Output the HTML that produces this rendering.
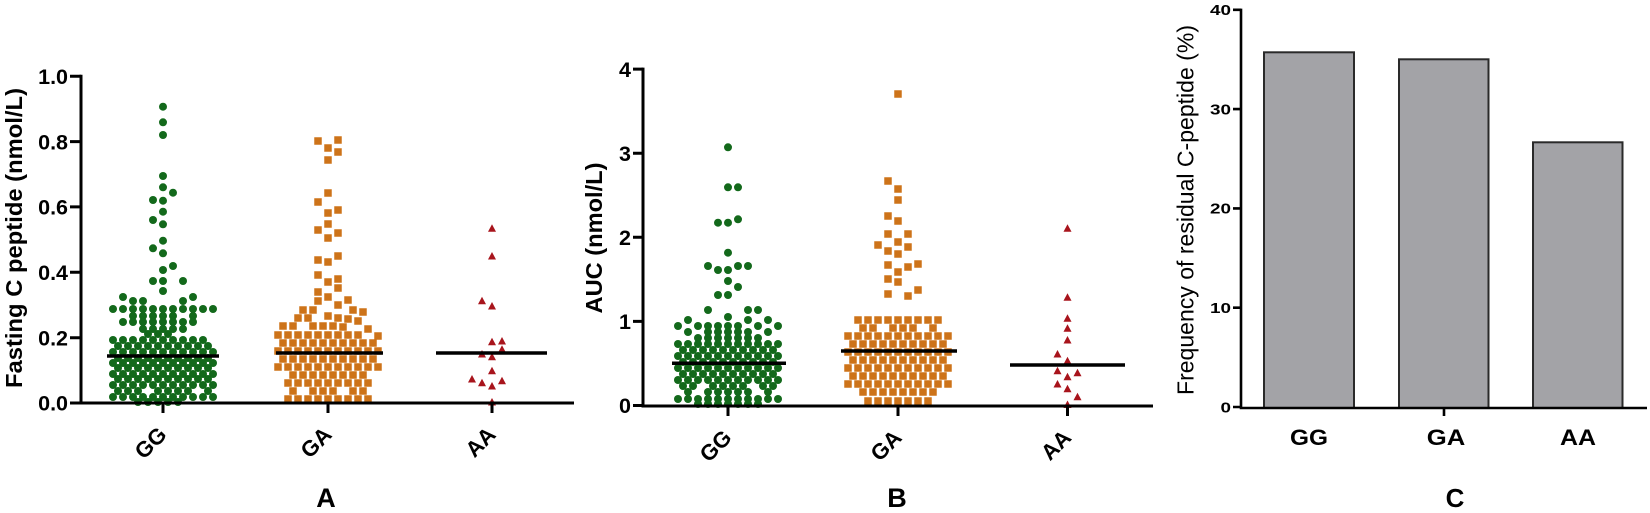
<!DOCTYPE html>
<html><head><meta charset="utf-8"><style>
html,body{margin:0;padding:0;background:#fff;}
svg{display:block;}
text{font-family:"Liberation Sans",Arial,sans-serif;fill:#000;}
.b{font-weight:bold;}
</style></head><body>
<svg width="1650" height="513" viewBox="0 0 1650 513" xmlns="http://www.w3.org/2000/svg">
<rect width="1650" height="513" fill="#fff"/>

<!-- ===== PANEL A ===== -->
<g fill="#13691b">
<g transform="translate(163,0)">
<circle cx="0" cy="106.7" r="4"/><circle cx="0" cy="122.3" r="4"/><circle cx="0" cy="135" r="4"/><circle cx="0" cy="176" r="4"/><circle cx="0" cy="187.3" r="4"/><circle cx="10" cy="192.7" r="4"/><circle cx="-10" cy="200" r="4"/><circle cx="0" cy="200.7" r="4"/><circle cx="0" cy="211.7" r="4"/><circle cx="-10" cy="220" r="4"/><circle cx="0" cy="224.3" r="4"/><circle cx="0" cy="240.7" r="4"/><circle cx="-10" cy="248.3" r="4"/><circle cx="0" cy="253.3" r="4"/><circle cx="10" cy="266" r="4"/><circle cx="0" cy="270" r="4"/><circle cx="-10" cy="281" r="4"/><circle cx="0" cy="281" r="4"/><circle cx="20" cy="281" r="4"/><circle cx="0" cy="291" r="4"/><circle cx="-40" cy="297" r="4"/><circle cx="30" cy="297" r="4"/><circle cx="-30" cy="301" r="4"/><circle cx="-20" cy="301" r="4"/><circle cx="20" cy="301" r="4"/>
<circle cx="-50" cy="309" r="4"/><circle cx="-40" cy="309" r="4"/><circle cx="-30" cy="309" r="4"/><circle cx="-20" cy="309" r="4"/><circle cx="-10" cy="309" r="4"/><circle cx="0" cy="309" r="4"/><circle cx="10" cy="309" r="4"/><circle cx="20" cy="309" r="4"/><circle cx="30" cy="309" r="4"/><circle cx="40" cy="309" r="4"/><circle cx="50" cy="309" r="4"/>
<circle cx="-30" cy="316" r="4"/><circle cx="-20" cy="316" r="4"/><circle cx="-10" cy="316" r="4"/><circle cx="0" cy="316" r="4"/><circle cx="10" cy="316" r="4"/><circle cx="30" cy="316" r="4"/>
<circle cx="-40" cy="322" r="4"/><circle cx="-30" cy="322" r="4"/><circle cx="-20" cy="322" r="4"/><circle cx="-10" cy="322" r="4"/><circle cx="0" cy="322" r="4"/><circle cx="10" cy="322" r="4"/><circle cx="20" cy="322" r="4"/><circle cx="30" cy="322" r="4"/>
<circle cx="-20" cy="329" r="4"/><circle cx="-10" cy="329" r="4"/><circle cx="0" cy="329" r="4"/><circle cx="10" cy="329" r="4"/><circle cx="20" cy="329" r="4"/>
<circle cx="-15" cy="334" r="4"/><circle cx="-5" cy="334" r="4"/><circle cx="5" cy="334" r="4"/>
<circle cx="-50" cy="340" r="4"/><circle cx="-40" cy="340" r="4"/><circle cx="-30" cy="340" r="4"/><circle cx="-20" cy="340" r="4"/><circle cx="-10" cy="340" r="4"/><circle cx="0" cy="340" r="4"/><circle cx="10" cy="340" r="4"/><circle cx="20" cy="340" r="4"/><circle cx="30" cy="340" r="4"/><circle cx="40" cy="340" r="4"/>
<circle cx="-45" cy="346" r="4"/><circle cx="-35" cy="346" r="4"/><circle cx="-25" cy="346" r="4"/><circle cx="-15" cy="346" r="4"/><circle cx="-5" cy="346" r="4"/><circle cx="5" cy="346" r="4"/><circle cx="15" cy="346" r="4"/><circle cx="25" cy="346" r="4"/><circle cx="35" cy="346" r="4"/><circle cx="45" cy="346" r="4"/>
<circle cx="-50" cy="352" r="4"/><circle cx="-40" cy="352" r="4"/><circle cx="-30" cy="352" r="4"/><circle cx="-20" cy="352" r="4"/><circle cx="-10" cy="352" r="4"/><circle cx="0" cy="352" r="4"/><circle cx="10" cy="352" r="4"/><circle cx="20" cy="352" r="4"/><circle cx="30" cy="352" r="4"/><circle cx="40" cy="352" r="4"/><circle cx="50" cy="352" r="4"/>
<circle cx="-45" cy="358" r="4"/><circle cx="-35" cy="358" r="4"/><circle cx="-25" cy="358" r="4"/><circle cx="-15" cy="358" r="4"/><circle cx="-5" cy="358" r="4"/><circle cx="5" cy="358" r="4"/><circle cx="15" cy="358" r="4"/><circle cx="25" cy="358" r="4"/><circle cx="35" cy="358" r="4"/><circle cx="45" cy="358" r="4"/>
<circle cx="-50" cy="363" r="4"/><circle cx="-40" cy="363" r="4"/><circle cx="-30" cy="363" r="4"/><circle cx="-20" cy="363" r="4"/><circle cx="-10" cy="363" r="4"/><circle cx="0" cy="363" r="4"/><circle cx="10" cy="363" r="4"/><circle cx="20" cy="363" r="4"/><circle cx="30" cy="363" r="4"/><circle cx="40" cy="363" r="4"/><circle cx="50" cy="363" r="4"/>
<circle cx="-45" cy="368" r="4"/><circle cx="-35" cy="368" r="4"/><circle cx="-25" cy="368" r="4"/><circle cx="-15" cy="368" r="4"/><circle cx="-5" cy="368" r="4"/><circle cx="5" cy="368" r="4"/><circle cx="15" cy="368" r="4"/><circle cx="25" cy="368" r="4"/><circle cx="35" cy="368" r="4"/><circle cx="45" cy="368" r="4"/>
<circle cx="-50" cy="374" r="4"/><circle cx="-40" cy="374" r="4"/><circle cx="-30" cy="374" r="4"/><circle cx="-20" cy="374" r="4"/><circle cx="-10" cy="374" r="4"/><circle cx="0" cy="374" r="4"/><circle cx="10" cy="374" r="4"/><circle cx="20" cy="374" r="4"/><circle cx="30" cy="374" r="4"/><circle cx="40" cy="374" r="4"/><circle cx="50" cy="374" r="4"/>
<circle cx="-45" cy="379" r="4"/><circle cx="-35" cy="379" r="4"/><circle cx="-25" cy="379" r="4"/><circle cx="-15" cy="379" r="4"/><circle cx="-5" cy="379" r="4"/><circle cx="5" cy="379" r="4"/><circle cx="15" cy="379" r="4"/><circle cx="25" cy="379" r="4"/><circle cx="35" cy="379" r="4"/><circle cx="45" cy="379" r="4"/>
<circle cx="-50" cy="385" r="4"/><circle cx="-40" cy="385" r="4"/><circle cx="-30" cy="385" r="4"/><circle cx="-20" cy="385" r="4"/><circle cx="-10" cy="385" r="4"/><circle cx="0" cy="385" r="4"/><circle cx="10" cy="385" r="4"/><circle cx="20" cy="385" r="4"/><circle cx="30" cy="385" r="4"/><circle cx="40" cy="385" r="4"/><circle cx="50" cy="385" r="4"/>
<circle cx="-45" cy="391" r="4"/><circle cx="-35" cy="391" r="4"/><circle cx="-25" cy="391" r="4"/><circle cx="-5" cy="391" r="4"/><circle cx="5" cy="391" r="4"/><circle cx="15" cy="391" r="4"/><circle cx="25" cy="391" r="4"/><circle cx="45" cy="391" r="4"/>
<circle cx="-50" cy="397" r="4"/><circle cx="-40" cy="397" r="4"/><circle cx="-30" cy="397" r="4"/><circle cx="-20" cy="397" r="4"/><circle cx="-10" cy="397" r="4"/><circle cx="0" cy="397" r="4"/><circle cx="10" cy="397" r="4"/><circle cx="20" cy="397" r="4"/><circle cx="30" cy="397" r="4"/><circle cx="40" cy="397" r="4"/><circle cx="50" cy="397" r="4"/>
<circle cx="-25" cy="402" r="4"/><circle cx="-15" cy="402" r="4"/><circle cx="-5" cy="402" r="4"/><circle cx="5" cy="402" r="4"/><circle cx="15" cy="402" r="4"/>
</g>
</g>

<g fill="#cd7319">
<g transform="translate(324.25,-3.75)">
<rect x="-10" y="141" width="7.5" height="7.5"/><rect x="10" y="140" width="7.5" height="7.5"/><rect x="0" y="148" width="7.5" height="7.5"/><rect x="10" y="152" width="7.5" height="7.5"/><rect x="0" y="160" width="7.5" height="7.5"/><rect x="0" y="193" width="7.5" height="7.5"/><rect x="-10" y="202" width="7.5" height="7.5"/><rect x="10" y="210" width="7.5" height="7.5"/><rect x="0" y="213" width="7.5" height="7.5"/><rect x="0" y="224" width="7.5" height="7.5"/><rect x="-10" y="230" width="7.5" height="7.5"/><rect x="10" y="233" width="7.5" height="7.5"/><rect x="0" y="238" width="7.5" height="7.5"/><rect x="10" y="256" width="7.5" height="7.5"/><rect x="-10" y="260" width="7.5" height="7.5"/><rect x="0" y="262" width="7.5" height="7.5"/><rect x="-10" y="275" width="7.5" height="7.5"/><rect x="0" y="282" width="7.5" height="7.5"/><rect x="10" y="279" width="7.5" height="7.5"/><rect x="10" y="288" width="7.5" height="7.5"/><rect x="-10" y="292" width="7.5" height="7.5"/><rect x="0" y="297" width="7.5" height="7.5"/><rect x="-10" y="301" width="7.5" height="7.5"/><rect x="20" y="300" width="7.5" height="7.5"/><rect x="10" y="305" width="7.5" height="7.5"/>
<rect x="-25" y="310" width="7.5" height="7.5"/><rect x="-15" y="310" width="7.5" height="7.5"/><rect x="25" y="310" width="7.5" height="7.5"/><rect x="35" y="312" width="7.5" height="7.5"/>
<rect x="-30" y="318" width="7.5" height="7.5"/><rect x="-20" y="318" width="7.5" height="7.5"/><rect x="0" y="316" width="7.5" height="7.5"/><rect x="10" y="318" width="7.5" height="7.5"/><rect x="20" y="319" width="7.5" height="7.5"/><rect x="30" y="321" width="7.5" height="7.5"/>
<rect x="-45" y="326" width="7.5" height="7.5"/><rect x="-35" y="326" width="7.5" height="7.5"/><rect x="-15" y="326" width="7.5" height="7.5"/><rect x="-5" y="326" width="7.5" height="7.5"/><rect x="5" y="326" width="7.5" height="7.5"/><rect x="15" y="327" width="7.5" height="7.5"/><rect x="40" y="329" width="7.5" height="7.5"/>
<rect x="-50" y="335" width="7.5" height="7.5"/><rect x="-40" y="335" width="7.5" height="7.5"/><rect x="-30" y="335" width="7.5" height="7.5"/><rect x="-20" y="335" width="7.5" height="7.5"/><rect x="-10" y="335" width="7.5" height="7.5"/><rect x="0" y="335" width="7.5" height="7.5"/><rect x="10" y="335" width="7.5" height="7.5"/><rect x="20" y="335" width="7.5" height="7.5"/><rect x="30" y="335" width="7.5" height="7.5"/><rect x="50" y="336" width="7.5" height="7.5"/>
<rect x="-45" y="343" width="7.5" height="7.5"/><rect x="-35" y="343" width="7.5" height="7.5"/><rect x="-25" y="343" width="7.5" height="7.5"/><rect x="-15" y="343" width="7.5" height="7.5"/><rect x="-5" y="343" width="7.5" height="7.5"/><rect x="5" y="343" width="7.5" height="7.5"/><rect x="15" y="343" width="7.5" height="7.5"/><rect x="25" y="343" width="7.5" height="7.5"/><rect x="35" y="343" width="7.5" height="7.5"/><rect x="45" y="343" width="7.5" height="7.5"/>
<rect x="-50" y="351" width="7.5" height="7.5"/><rect x="-40" y="351" width="7.5" height="7.5"/><rect x="-30" y="351" width="7.5" height="7.5"/><rect x="-20" y="351" width="7.5" height="7.5"/><rect x="-10" y="351" width="7.5" height="7.5"/><rect x="0" y="351" width="7.5" height="7.5"/><rect x="10" y="351" width="7.5" height="7.5"/><rect x="20" y="351" width="7.5" height="7.5"/><rect x="30" y="351" width="7.5" height="7.5"/><rect x="40" y="351" width="7.5" height="7.5"/><rect x="50" y="351" width="7.5" height="7.5"/>
<rect x="-45" y="359" width="7.5" height="7.5"/><rect x="-35" y="359" width="7.5" height="7.5"/><rect x="-25" y="359" width="7.5" height="7.5"/><rect x="-15" y="359" width="7.5" height="7.5"/><rect x="-5" y="359" width="7.5" height="7.5"/><rect x="5" y="359" width="7.5" height="7.5"/><rect x="15" y="359" width="7.5" height="7.5"/><rect x="25" y="359" width="7.5" height="7.5"/><rect x="35" y="359" width="7.5" height="7.5"/><rect x="45" y="359" width="7.5" height="7.5"/>
<rect x="-50" y="367" width="7.5" height="7.5"/><rect x="-40" y="367" width="7.5" height="7.5"/><rect x="-30" y="367" width="7.5" height="7.5"/><rect x="-20" y="367" width="7.5" height="7.5"/><rect x="-10" y="367" width="7.5" height="7.5"/><rect x="0" y="367" width="7.5" height="7.5"/><rect x="10" y="367" width="7.5" height="7.5"/><rect x="20" y="367" width="7.5" height="7.5"/><rect x="30" y="367" width="7.5" height="7.5"/><rect x="40" y="367" width="7.5" height="7.5"/><rect x="50" y="367" width="7.5" height="7.5"/>
<rect x="-35" y="375" width="7.5" height="7.5"/><rect x="-25" y="375" width="7.5" height="7.5"/><rect x="-15" y="375" width="7.5" height="7.5"/><rect x="-5" y="375" width="7.5" height="7.5"/><rect x="5" y="375" width="7.5" height="7.5"/><rect x="15" y="375" width="7.5" height="7.5"/><rect x="25" y="375" width="7.5" height="7.5"/><rect x="35" y="375" width="7.5" height="7.5"/>
<rect x="-40" y="383" width="7.5" height="7.5"/><rect x="-30" y="383" width="7.5" height="7.5"/><rect x="-20" y="383" width="7.5" height="7.5"/><rect x="-10" y="383" width="7.5" height="7.5"/><rect x="0" y="383" width="7.5" height="7.5"/><rect x="10" y="383" width="7.5" height="7.5"/><rect x="20" y="383" width="7.5" height="7.5"/><rect x="30" y="383" width="7.5" height="7.5"/><rect x="40" y="383" width="7.5" height="7.5"/>
<rect x="-35" y="391" width="7.5" height="7.5"/><rect x="-15" y="391" width="7.5" height="7.5"/><rect x="-5" y="391" width="7.5" height="7.5"/><rect x="5" y="391" width="7.5" height="7.5"/><rect x="25" y="391" width="7.5" height="7.5"/><rect x="35" y="391" width="7.5" height="7.5"/>
<rect x="-40" y="399" width="7.5" height="7.5"/><rect x="-30" y="399" width="7.5" height="7.5"/><rect x="-20" y="399" width="7.5" height="7.5"/><rect x="-10" y="399" width="7.5" height="7.5"/><rect x="0" y="399" width="7.5" height="7.5"/><rect x="10" y="399" width="7.5" height="7.5"/><rect x="20" y="399" width="7.5" height="7.5"/><rect x="30" y="399" width="7.5" height="7.5"/><rect x="40" y="399" width="7.5" height="7.5"/>
</g>
</g>

<g fill="#a8141c">
<path transform="translate(492,228.3)" d="M-4 3.5L0-4L4 3.5Z"/>
<path transform="translate(492,256)" d="M-4 3.5L0-4L4 3.5Z"/>
<path transform="translate(482,300.7)" d="M-4 3.5L0-4L4 3.5Z"/>
<path transform="translate(492,306)" d="M-4 3.5L0-4L4 3.5Z"/>
<path transform="translate(492,341.7)" d="M-4 3.5L0-4L4 3.5Z"/>
<path transform="translate(502,341)" d="M-4 3.5L0-4L4 3.5Z"/>
<path transform="translate(502,349.3)" d="M-4 3.5L0-4L4 3.5Z"/>
<path transform="translate(482,354)" d="M-4 3.5L0-4L4 3.5Z"/>
<path transform="translate(492,356.7)" d="M-4 3.5L0-4L4 3.5Z"/>
<path transform="translate(492,370.7)" d="M-4 3.5L0-4L4 3.5Z"/>
<path transform="translate(472,379)" d="M-4 3.5L0-4L4 3.5Z"/>
<path transform="translate(502,380.7)" d="M-4 3.5L0-4L4 3.5Z"/>
<path transform="translate(482,382.7)" d="M-4 3.5L0-4L4 3.5Z"/>
<path transform="translate(492,386)" d="M-4 3.5L0-4L4 3.5Z"/>
<path transform="translate(492,402)" d="M-4 3.5L0-4L4 3.5Z"/>
</g>

<g stroke="#000" stroke-width="3.5">
<line x1="107" y1="356" x2="219" y2="356"/>
<line x1="276" y1="353" x2="383" y2="353"/>
<line x1="436" y1="353" x2="547" y2="353"/>
</g>

<g stroke="#000" stroke-width="3" fill="none">
<path d="M81 74.8V403H574"/>
<path d="M70 76.3H81M70 141.6H81M70 206.9H81M70 272.3H81M70 337.7H81M70 403H81"/>
<path d="M163 403V413M328 403V413M492 403V413"/>
</g>
<g class="b" font-size="21.5" text-anchor="end">
<text x="68" y="84">1.0</text>
<text x="68" y="149.3">0.8</text>
<text x="68" y="214.6">0.6</text>
<text x="68" y="280">0.4</text>
<text x="68" y="345.4">0.2</text>
<text x="68" y="410.7">0.0</text>
</g>
<text class="b" font-size="23.5" text-anchor="middle" transform="translate(22,238) rotate(-90)" textLength="300" lengthAdjust="spacingAndGlyphs">Fasting C peptide (nmol/L)</text>
<g class="b" font-size="22" text-anchor="end">
<text transform="translate(168,436) rotate(-45)">GG</text>
<text transform="translate(333,436) rotate(-45)">GA</text>
<text transform="translate(497,436) rotate(-45)">AA</text>
</g>
<text class="b" font-size="27" text-anchor="middle" x="326" y="507">A</text>

<!-- ===== PANEL B ===== -->
<g fill="#13691b">
<g transform="translate(728,0)">
<circle cx="0" cy="147.3" r="4"/><circle cx="0" cy="187.3" r="4"/><circle cx="10" cy="187.3" r="4"/><circle cx="-10" cy="222.7" r="4"/><circle cx="0" cy="222.7" r="4"/><circle cx="10" cy="219.3" r="4"/><circle cx="0" cy="252.7" r="4"/><circle cx="-20" cy="266" r="4"/><circle cx="10" cy="266" r="4"/><circle cx="20" cy="266" r="4"/><circle cx="-10" cy="270" r="4"/><circle cx="0" cy="270" r="4"/><circle cx="0" cy="281" r="4"/><circle cx="10" cy="287" r="4"/><circle cx="-10" cy="295" r="4"/><circle cx="0" cy="295" r="4"/><circle cx="-20" cy="310" r="4"/><circle cx="20" cy="310" r="4"/><circle cx="30" cy="310" r="4"/><circle cx="0" cy="317" r="4"/><circle cx="-40" cy="320" r="4"/><circle cx="20" cy="320" r="4"/><circle cx="40" cy="320" r="4"/>
<circle cx="-50" cy="326" r="4"/><circle cx="-30" cy="326" r="4"/><circle cx="-20" cy="326" r="4"/><circle cx="-10" cy="326" r="4"/><circle cx="0" cy="326" r="4"/><circle cx="10" cy="326" r="4"/><circle cx="30" cy="326" r="4"/><circle cx="50" cy="326" r="4"/>
<circle cx="-40" cy="332" r="4"/><circle cx="-20" cy="332" r="4"/><circle cx="-10" cy="332" r="4"/><circle cx="0" cy="332" r="4"/><circle cx="10" cy="332" r="4"/><circle cx="20" cy="332" r="4"/><circle cx="40" cy="332" r="4"/>
<circle cx="-30" cy="338" r="4"/><circle cx="-20" cy="338" r="4"/><circle cx="-10" cy="338" r="4"/><circle cx="0" cy="338" r="4"/><circle cx="10" cy="338" r="4"/><circle cx="20" cy="338" r="4"/><circle cx="30" cy="338" r="4"/>
<circle cx="-50" cy="344" r="4"/><circle cx="-40" cy="344" r="4"/><circle cx="-30" cy="344" r="4"/><circle cx="-20" cy="344" r="4"/><circle cx="-10" cy="344" r="4"/><circle cx="0" cy="344" r="4"/><circle cx="10" cy="344" r="4"/><circle cx="20" cy="344" r="4"/><circle cx="30" cy="344" r="4"/><circle cx="40" cy="344" r="4"/><circle cx="50" cy="344" r="4"/>
<circle cx="-45" cy="350" r="4"/><circle cx="-35" cy="350" r="4"/><circle cx="-25" cy="350" r="4"/><circle cx="-15" cy="350" r="4"/><circle cx="-5" cy="350" r="4"/><circle cx="5" cy="350" r="4"/><circle cx="15" cy="350" r="4"/><circle cx="25" cy="350" r="4"/><circle cx="35" cy="350" r="4"/><circle cx="45" cy="350" r="4"/>
<circle cx="-50" cy="356" r="4"/><circle cx="-40" cy="356" r="4"/><circle cx="-30" cy="356" r="4"/><circle cx="-20" cy="356" r="4"/><circle cx="-10" cy="356" r="4"/><circle cx="0" cy="356" r="4"/><circle cx="10" cy="356" r="4"/><circle cx="20" cy="356" r="4"/><circle cx="30" cy="356" r="4"/><circle cx="40" cy="356" r="4"/><circle cx="50" cy="356" r="4"/>
<circle cx="-45" cy="362" r="4"/><circle cx="-35" cy="362" r="4"/><circle cx="-25" cy="362" r="4"/><circle cx="-15" cy="362" r="4"/><circle cx="-5" cy="362" r="4"/><circle cx="5" cy="362" r="4"/><circle cx="15" cy="362" r="4"/><circle cx="25" cy="362" r="4"/><circle cx="35" cy="362" r="4"/><circle cx="45" cy="362" r="4"/>
<circle cx="-50" cy="368" r="4"/><circle cx="-40" cy="368" r="4"/><circle cx="-30" cy="368" r="4"/><circle cx="-20" cy="368" r="4"/><circle cx="-10" cy="368" r="4"/><circle cx="0" cy="368" r="4"/><circle cx="10" cy="368" r="4"/><circle cx="20" cy="368" r="4"/><circle cx="30" cy="368" r="4"/><circle cx="40" cy="368" r="4"/><circle cx="50" cy="368" r="4"/>
<circle cx="-45" cy="374" r="4"/><circle cx="-35" cy="374" r="4"/><circle cx="-25" cy="374" r="4"/><circle cx="-15" cy="374" r="4"/><circle cx="-5" cy="374" r="4"/><circle cx="5" cy="374" r="4"/><circle cx="15" cy="374" r="4"/><circle cx="25" cy="374" r="4"/><circle cx="35" cy="374" r="4"/><circle cx="45" cy="374" r="4"/>
<circle cx="-50" cy="380" r="4"/><circle cx="-40" cy="380" r="4"/><circle cx="-30" cy="380" r="4"/><circle cx="-20" cy="380" r="4"/><circle cx="-10" cy="380" r="4"/><circle cx="0" cy="380" r="4"/><circle cx="10" cy="380" r="4"/><circle cx="20" cy="380" r="4"/><circle cx="30" cy="380" r="4"/><circle cx="40" cy="380" r="4"/><circle cx="50" cy="380" r="4"/>
<circle cx="-45" cy="386" r="4"/><circle cx="-35" cy="386" r="4"/><circle cx="-15" cy="386" r="4"/><circle cx="-5" cy="386" r="4"/><circle cx="5" cy="386" r="4"/><circle cx="15" cy="386" r="4"/><circle cx="35" cy="386" r="4"/><circle cx="45" cy="386" r="4"/>
<circle cx="-40" cy="392" r="4"/><circle cx="-20" cy="392" r="4"/><circle cx="-10" cy="392" r="4"/><circle cx="0" cy="392" r="4"/><circle cx="10" cy="392" r="4"/><circle cx="20" cy="392" r="4"/><circle cx="40" cy="392" r="4"/>
<circle cx="-50" cy="399" r="4"/><circle cx="-40" cy="399" r="4"/><circle cx="-30" cy="399" r="4"/><circle cx="-20" cy="399" r="4"/><circle cx="-10" cy="399" r="4"/><circle cx="0" cy="399" r="4"/><circle cx="10" cy="399" r="4"/><circle cx="20" cy="399" r="4"/><circle cx="30" cy="399" r="4"/><circle cx="40" cy="399" r="4"/><circle cx="50" cy="399" r="4"/>
<circle cx="-30" cy="404" r="4"/><circle cx="-20" cy="404" r="4"/><circle cx="-10" cy="404" r="4"/><circle cx="0" cy="404" r="4"/><circle cx="10" cy="404" r="4"/><circle cx="20" cy="404" r="4"/><circle cx="30" cy="404" r="4"/>
</g>
</g>

<g fill="#cd7319">
<g transform="translate(894.25,-3.75)">
<rect x="0" y="94" width="7.5" height="7.5"/><rect x="-10" y="181" width="7.5" height="7.5"/><rect x="0" y="189" width="7.5" height="7.5"/><rect x="0" y="200" width="7.5" height="7.5"/><rect x="-10" y="216" width="7.5" height="7.5"/><rect x="0" y="221" width="7.5" height="7.5"/><rect x="-10" y="234" width="7.5" height="7.5"/><rect x="10" y="234" width="7.5" height="7.5"/><rect x="0" y="242" width="7.5" height="7.5"/><rect x="-20" y="245" width="7.5" height="7.5"/><rect x="10" y="247" width="7.5" height="7.5"/><rect x="-10" y="251" width="7.5" height="7.5"/><rect x="0" y="254" width="7.5" height="7.5"/><rect x="20" y="264" width="7.5" height="7.5"/><rect x="-10" y="265" width="7.5" height="7.5"/><rect x="10" y="267" width="7.5" height="7.5"/><rect x="0" y="272" width="7.5" height="7.5"/><rect x="-10" y="279" width="7.5" height="7.5"/><rect x="0" y="282" width="7.5" height="7.5"/><rect x="20" y="290" width="7.5" height="7.5"/><rect x="-10" y="294" width="7.5" height="7.5"/><rect x="10" y="296" width="7.5" height="7.5"/>
<rect x="-40" y="320" width="7.5" height="7.5"/><rect x="-30" y="320" width="7.5" height="7.5"/><rect x="-20" y="320" width="7.5" height="7.5"/><rect x="-10" y="320" width="7.5" height="7.5"/><rect x="0" y="320" width="7.5" height="7.5"/><rect x="10" y="320" width="7.5" height="7.5"/><rect x="20" y="320" width="7.5" height="7.5"/><rect x="30" y="320" width="7.5" height="7.5"/><rect x="40" y="320" width="7.5" height="7.5"/>
<rect x="-35" y="328" width="7.5" height="7.5"/><rect x="-25" y="328" width="7.5" height="7.5"/><rect x="-5" y="328" width="7.5" height="7.5"/><rect x="5" y="328" width="7.5" height="7.5"/><rect x="15" y="328" width="7.5" height="7.5"/><rect x="35" y="328" width="7.5" height="7.5"/>
<rect x="-50" y="336" width="7.5" height="7.5"/><rect x="-40" y="336" width="7.5" height="7.5"/><rect x="-30" y="336" width="7.5" height="7.5"/><rect x="-20" y="336" width="7.5" height="7.5"/><rect x="-10" y="336" width="7.5" height="7.5"/><rect x="0" y="336" width="7.5" height="7.5"/><rect x="10" y="336" width="7.5" height="7.5"/><rect x="20" y="336" width="7.5" height="7.5"/><rect x="30" y="336" width="7.5" height="7.5"/><rect x="40" y="336" width="7.5" height="7.5"/><rect x="50" y="336" width="7.5" height="7.5"/>
<rect x="-45" y="344" width="7.5" height="7.5"/><rect x="-35" y="344" width="7.5" height="7.5"/><rect x="-25" y="344" width="7.5" height="7.5"/><rect x="-15" y="344" width="7.5" height="7.5"/><rect x="-5" y="344" width="7.5" height="7.5"/><rect x="5" y="344" width="7.5" height="7.5"/><rect x="15" y="344" width="7.5" height="7.5"/><rect x="25" y="344" width="7.5" height="7.5"/><rect x="35" y="344" width="7.5" height="7.5"/><rect x="45" y="344" width="7.5" height="7.5"/>
<rect x="-50" y="352" width="7.5" height="7.5"/><rect x="-40" y="352" width="7.5" height="7.5"/><rect x="-30" y="352" width="7.5" height="7.5"/><rect x="-20" y="352" width="7.5" height="7.5"/><rect x="-10" y="352" width="7.5" height="7.5"/><rect x="0" y="352" width="7.5" height="7.5"/><rect x="10" y="352" width="7.5" height="7.5"/><rect x="20" y="352" width="7.5" height="7.5"/><rect x="30" y="352" width="7.5" height="7.5"/><rect x="40" y="352" width="7.5" height="7.5"/><rect x="50" y="352" width="7.5" height="7.5"/>
<rect x="-45" y="360" width="7.5" height="7.5"/><rect x="-35" y="360" width="7.5" height="7.5"/><rect x="-25" y="360" width="7.5" height="7.5"/><rect x="-15" y="360" width="7.5" height="7.5"/><rect x="-5" y="360" width="7.5" height="7.5"/><rect x="5" y="360" width="7.5" height="7.5"/><rect x="15" y="360" width="7.5" height="7.5"/><rect x="25" y="360" width="7.5" height="7.5"/><rect x="35" y="360" width="7.5" height="7.5"/><rect x="45" y="360" width="7.5" height="7.5"/>
<rect x="-50" y="368" width="7.5" height="7.5"/><rect x="-40" y="368" width="7.5" height="7.5"/><rect x="-30" y="368" width="7.5" height="7.5"/><rect x="-20" y="368" width="7.5" height="7.5"/><rect x="-10" y="368" width="7.5" height="7.5"/><rect x="0" y="368" width="7.5" height="7.5"/><rect x="10" y="368" width="7.5" height="7.5"/><rect x="20" y="368" width="7.5" height="7.5"/><rect x="30" y="368" width="7.5" height="7.5"/><rect x="40" y="368" width="7.5" height="7.5"/><rect x="50" y="368" width="7.5" height="7.5"/>
<rect x="-45" y="376" width="7.5" height="7.5"/><rect x="-35" y="376" width="7.5" height="7.5"/><rect x="-25" y="376" width="7.5" height="7.5"/><rect x="-15" y="376" width="7.5" height="7.5"/><rect x="-5" y="376" width="7.5" height="7.5"/><rect x="5" y="376" width="7.5" height="7.5"/><rect x="15" y="376" width="7.5" height="7.5"/><rect x="25" y="376" width="7.5" height="7.5"/><rect x="35" y="376" width="7.5" height="7.5"/><rect x="45" y="376" width="7.5" height="7.5"/>
<rect x="-50" y="384" width="7.5" height="7.5"/><rect x="-40" y="384" width="7.5" height="7.5"/><rect x="-30" y="384" width="7.5" height="7.5"/><rect x="-20" y="384" width="7.5" height="7.5"/><rect x="-10" y="384" width="7.5" height="7.5"/><rect x="0" y="384" width="7.5" height="7.5"/><rect x="10" y="384" width="7.5" height="7.5"/><rect x="20" y="384" width="7.5" height="7.5"/><rect x="30" y="384" width="7.5" height="7.5"/><rect x="40" y="384" width="7.5" height="7.5"/><rect x="50" y="384" width="7.5" height="7.5"/>
<rect x="-35" y="392" width="7.5" height="7.5"/><rect x="-25" y="392" width="7.5" height="7.5"/><rect x="-15" y="392" width="7.5" height="7.5"/><rect x="-5" y="392" width="7.5" height="7.5"/><rect x="5" y="392" width="7.5" height="7.5"/><rect x="15" y="392" width="7.5" height="7.5"/><rect x="25" y="392" width="7.5" height="7.5"/><rect x="35" y="392" width="7.5" height="7.5"/>
<rect x="-30" y="401" width="7.5" height="7.5"/><rect x="-20" y="401" width="7.5" height="7.5"/><rect x="-10" y="401" width="7.5" height="7.5"/><rect x="0" y="401" width="7.5" height="7.5"/><rect x="10" y="401" width="7.5" height="7.5"/><rect x="20" y="401" width="7.5" height="7.5"/><rect x="30" y="401" width="7.5" height="7.5"/>
</g>
</g>

<g fill="#a8141c">
<path transform="translate(1067.5,228.3)" d="M-4 3.5L0-4L4 3.5Z"/>
<path transform="translate(1067.5,297.3)" d="M-4 3.5L0-4L4 3.5Z"/>
<path transform="translate(1067.5,318.3)" d="M-4 3.5L0-4L4 3.5Z"/>
<path transform="translate(1067.5,328.3)" d="M-4 3.5L0-4L4 3.5Z"/>
<path transform="translate(1067.5,340)" d="M-4 3.5L0-4L4 3.5Z"/>
<path transform="translate(1057.5,354)" d="M-4 3.5L0-4L4 3.5Z"/>
<path transform="translate(1067.5,360.7)" d="M-4 3.5L0-4L4 3.5Z"/>
<path transform="translate(1057.5,370.7)" d="M-4 3.5L0-4L4 3.5Z"/>
<path transform="translate(1077.5,372.7)" d="M-4 3.5L0-4L4 3.5Z"/>
<path transform="translate(1067.5,376.7)" d="M-4 3.5L0-4L4 3.5Z"/>
<path transform="translate(1057.5,384)" d="M-4 3.5L0-4L4 3.5Z"/>
<path transform="translate(1067.5,388.7)" d="M-4 3.5L0-4L4 3.5Z"/>
<path transform="translate(1077.5,396.7)" d="M-4 3.5L0-4L4 3.5Z"/>
<path transform="translate(1067.5,404.5)" d="M-4 3.5L0-4L4 3.5Z"/>
</g>

<g stroke="#000" stroke-width="3.5">
<line x1="672" y1="363.3" x2="786" y2="363.3"/>
<line x1="841" y1="351" x2="957" y2="351"/>
<line x1="1010" y1="365" x2="1125" y2="365"/>
</g>

<g stroke="#000" stroke-width="3" fill="none">
<path d="M643 67.6V406H1153"/>
<path d="M633 69.1H643M633 153.2H643M633 237.3H643M633 321.4H643M633 405.5H643"/>
<path d="M728 406V416M898 406V416M1067.5 406V416"/>
</g>
<g class="b" font-size="21.5" text-anchor="end">
<text x="631" y="76.8">4</text>
<text x="631" y="160.9">3</text>
<text x="631" y="245">2</text>
<text x="631" y="329.1">1</text>
<text x="631" y="413.2">0</text>
</g>
<text class="b" font-size="23.5" text-anchor="middle" transform="translate(602,238) rotate(-90)" textLength="151" lengthAdjust="spacingAndGlyphs">AUC (nmol/L)</text>
<g class="b" font-size="22" text-anchor="end">
<text transform="translate(733,439) rotate(-45)">GG</text>
<text transform="translate(903,439) rotate(-45)">GA</text>
<text transform="translate(1072.5,439) rotate(-45)">AA</text>
</g>
<text class="b" font-size="27" text-anchor="middle" x="897" y="507">B</text>

<!-- ===== PANEL C ===== -->
<g fill="#a3a3a7" stroke="#2a2a2a" stroke-width="2">
<rect x="1264" y="52.3" width="90" height="355.7"/>
<rect x="1399" y="59.3" width="89.5" height="348.7"/>
<rect x="1533" y="142.3" width="89.5" height="265.7"/>
</g>
<g stroke="#000" stroke-width="2.6" fill="none">
<path d="M1241 8.6V408H1647"/>
<path d="M1233 9.8H1241M1233 109.1H1241M1233 208.4H1241M1233 307.7H1241M1233 407H1241"/>
<path d="M1444 408V416"/>
</g>
<g class="b" font-size="15" text-anchor="end">
<text x="1231" y="15.1" textLength="21" lengthAdjust="spacingAndGlyphs">40</text>
<text x="1231" y="114.4" textLength="21" lengthAdjust="spacingAndGlyphs">30</text>
<text x="1231" y="213.7" textLength="21" lengthAdjust="spacingAndGlyphs">20</text>
<text x="1231" y="313" textLength="21" lengthAdjust="spacingAndGlyphs">10</text>
<text x="1231" y="412.3" textLength="10.5" lengthAdjust="spacingAndGlyphs">0</text>
</g>
<text font-size="23" text-anchor="middle" transform="translate(1193.5,210) rotate(-90)" textLength="370" lengthAdjust="spacingAndGlyphs">Frequency of residual C-peptide (%)</text>
<g class="b" font-size="22" text-anchor="middle">
<text x="1309" y="445" textLength="38" lengthAdjust="spacingAndGlyphs">GG</text>
<text x="1446" y="445" textLength="38.5" lengthAdjust="spacingAndGlyphs">GA</text>
<text x="1578" y="445" textLength="36" lengthAdjust="spacingAndGlyphs">AA</text>
</g>
<text class="b" font-size="26" text-anchor="middle" x="1455" y="507">C</text>
</svg>
</body></html>
